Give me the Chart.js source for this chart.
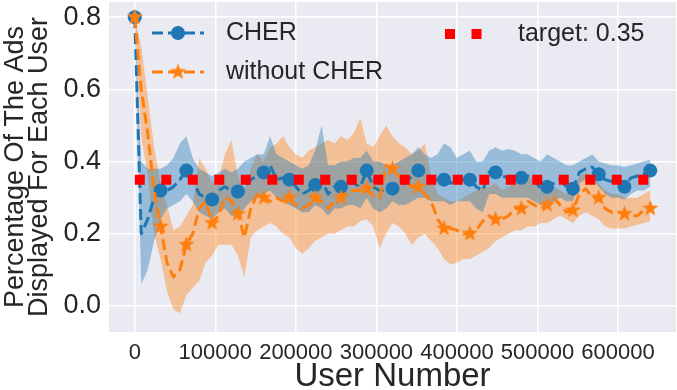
<!DOCTYPE html>
<html>
<head>
<meta charset="utf-8">
<script src="https://cdn.jsdelivr.net/npm/chart.js@4.4.1/dist/chart.umd.min.js"></script>
<style>
  html, body { margin: 0; padding: 0; background: #ffffff; }
  #wrap { width: 677px; height: 390px; }
</style>
</head>
<body>
<div id="wrap"><canvas id="adsChart" width="677" height="390"></canvas></div>
<script>
// sampled every 8000 users
const userNumbers = [
  0, 8000, 16000, 24000, 32000, 40000, 48000, 56000, 64000, 72000,
  80000, 88000, 96000, 104000, 112000, 120000, 128000, 136000, 144000, 152000,
  160000, 168000, 176000, 184000, 192000, 200000, 208000, 216000, 224000, 232000,
  240000, 248000, 256000, 264000, 272000, 280000, 288000, 296000, 304000, 312000,
  320000, 328000, 336000, 344000, 352000, 360000, 368000, 376000, 384000, 392000,
  400000, 408000, 416000, 424000, 432000, 440000, 448000, 456000, 464000, 472000,
  480000, 488000, 496000, 504000, 512000, 520000, 528000, 536000, 544000, 552000,
  560000, 568000, 576000, 584000, 592000, 600000, 608000, 616000, 624000, 632000,
  640000
];

const cherMean = [
  0.80, 0.20, 0.24, 0.30, 0.32, 0.32, 0.33, 0.35, 0.375, 0.35,
  0.31, 0.30, 0.295, 0.32, 0.33, 0.32, 0.317, 0.33, 0.35, 0.36,
  0.37, 0.39, 0.35, 0.355, 0.35, 0.33, 0.31, 0.32, 0.335, 0.35,
  0.31, 0.33, 0.33, 0.34, 0.34, 0.33, 0.375, 0.33, 0.32, 0.32,
  0.325, 0.335, 0.34, 0.36, 0.375, 0.36, 0.35, 0.35, 0.35, 0.34,
  0.35, 0.35, 0.35, 0.33, 0.32, 0.37, 0.37, 0.36, 0.355, 0.35,
  0.355, 0.36, 0.35, 0.325, 0.33, 0.34, 0.35, 0.33, 0.325, 0.37,
  0.38, 0.385, 0.365, 0.35, 0.345, 0.34, 0.33, 0.355, 0.36, 0.365,
  0.375
];
const cherLow = [
  0.80, 0.06, 0.10, 0.18, 0.24, 0.27, 0.28, 0.29, 0.31, 0.29,
  0.26, 0.25, 0.24, 0.26, 0.27, 0.25, 0.25, 0.27, 0.29, 0.30,
  0.31, 0.32, 0.30, 0.29, 0.28, 0.27, 0.26, 0.26, 0.28, 0.27,
  0.25, 0.27, 0.27, 0.28, 0.28, 0.27, 0.30, 0.27, 0.26, 0.27,
  0.29, 0.28, 0.28, 0.29, 0.30, 0.30, 0.29, 0.29, 0.29, 0.28,
  0.29, 0.29, 0.29, 0.27, 0.26, 0.31, 0.31, 0.30, 0.30, 0.30,
  0.30, 0.30, 0.29, 0.28, 0.28, 0.29, 0.30, 0.29, 0.29, 0.34,
  0.35, 0.35, 0.33, 0.31, 0.30, 0.30, 0.295, 0.31, 0.32, 0.32,
  0.33
];
const cherHigh = [
  0.80, 0.40, 0.38, 0.38, 0.38, 0.39, 0.41, 0.45, 0.47, 0.41,
  0.38, 0.37, 0.36, 0.37, 0.38, 0.37, 0.38, 0.40, 0.41, 0.42,
  0.42, 0.47, 0.42, 0.41, 0.40, 0.39, 0.38, 0.39, 0.43, 0.50,
  0.39, 0.39, 0.40, 0.40, 0.41, 0.41, 0.43, 0.40, 0.40, 0.39,
  0.39, 0.40, 0.41, 0.42, 0.44, 0.42, 0.41, 0.42, 0.45, 0.44,
  0.41, 0.42, 0.43, 0.40, 0.40, 0.43, 0.44, 0.43, 0.435, 0.43,
  0.42, 0.42, 0.41, 0.40, 0.42, 0.41, 0.40, 0.39, 0.39, 0.40,
  0.41, 0.42, 0.40, 0.395, 0.39, 0.39, 0.385, 0.39, 0.395, 0.40,
  0.405
];

const withoutMean = [
  0.80, 0.60, 0.48, 0.32, 0.22, 0.12, 0.08, 0.10, 0.17, 0.20,
  0.27, 0.29, 0.23, 0.25, 0.30, 0.29, 0.255, 0.19, 0.27, 0.31,
  0.30, 0.29, 0.30, 0.29, 0.30, 0.28, 0.27, 0.28, 0.30, 0.29,
  0.27, 0.29, 0.30, 0.315, 0.32, 0.32, 0.325, 0.305, 0.30, 0.39,
  0.38, 0.36, 0.34, 0.33, 0.33, 0.31, 0.29, 0.24, 0.215, 0.215,
  0.21, 0.20, 0.20, 0.21, 0.235, 0.25, 0.24, 0.24, 0.25, 0.27,
  0.27, 0.29, 0.28, 0.27, 0.28, 0.30, 0.28, 0.26, 0.265, 0.31,
  0.325, 0.30, 0.30, 0.27, 0.26, 0.26, 0.255, 0.25, 0.25, 0.265,
  0.27
];
const withoutLow = [
  0.80, 0.47, 0.36, 0.20, 0.13, 0.04, -0.01, -0.02, 0.03, 0.05,
  0.07, 0.12, 0.14, 0.17, 0.17, 0.17, 0.14, 0.08, 0.19, 0.21,
  0.22, 0.23, 0.22, 0.20, 0.19, 0.16, 0.145, 0.16, 0.18, 0.19,
  0.20, 0.20, 0.21, 0.22, 0.22, 0.235, 0.24, 0.22, 0.16, 0.20,
  0.23, 0.22, 0.20, 0.17, 0.19, 0.20, 0.18, 0.16, 0.13, 0.115,
  0.12, 0.13, 0.13, 0.14, 0.15, 0.16, 0.18, 0.19, 0.20, 0.21,
  0.21, 0.22, 0.22, 0.23, 0.23, 0.24, 0.25, 0.24, 0.23, 0.25,
  0.26, 0.25, 0.24, 0.22, 0.215, 0.215, 0.215, 0.22, 0.225, 0.23,
  0.235
];
const withoutHigh = [
  0.80, 0.72, 0.58, 0.44, 0.34, 0.28, 0.21, 0.22, 0.25, 0.28,
  0.41, 0.38, 0.34, 0.35, 0.42, 0.46, 0.36, 0.32, 0.38, 0.42,
  0.40, 0.44, 0.45, 0.47, 0.44, 0.42, 0.41, 0.43, 0.44, 0.45,
  0.46, 0.45, 0.47, 0.46, 0.48, 0.52, 0.45, 0.44, 0.47, 0.50,
  0.47, 0.45, 0.44, 0.42, 0.43, 0.45, 0.36, 0.31, 0.30, 0.29,
  0.29, 0.30, 0.31, 0.32, 0.33, 0.33, 0.34, 0.32, 0.33, 0.34,
  0.35, 0.36, 0.35, 0.34, 0.33, 0.33, 0.32, 0.31, 0.32, 0.36,
  0.37, 0.36, 0.34, 0.32, 0.31, 0.31, 0.30, 0.30, 0.30, 0.31,
  0.32
];

const targetValue = 0.35;
const xTicks = [0, 100000, 200000, 300000, 400000, 500000, 600000];
const yTicks = [0.0, 0.2, 0.4, 0.6, 0.8];
const seriesLabels = ['CHER', 'without CHER', 'target: ' + targetValue];

const BLUE = '#1f77b4';
const ORANGE = '#ff7f0e';
const TEXT = '#262626';
const FONT = "'Liberation Sans', Arial, sans-serif";

function toPoints(ys) {
  return ys.map((y, i) => ({ x: userNumbers[i], y: y }));
}

// filled five point star, like matplotlib's '*'
function makeStar(r, color) {
  const c = document.createElement('canvas');
  const size = Math.ceil(r * 2 + 2);
  c.width = size;
  c.height = size;
  const g = c.getContext('2d');
  g.fillStyle = color;
  g.beginPath();
  for (let k = 0; k < 10; k++) {
    const rad = k % 2 === 0 ? r : r * 0.42;
    const ang = -Math.PI / 2 + k * Math.PI / 5;
    const px = size / 2 + rad * Math.cos(ang);
    const py = size / 2 + rad * Math.sin(ang);
    if (k === 0) g.moveTo(px, py); else g.lineTo(px, py);
  }
  g.closePath();
  g.fill();
  return c;
}
const starImg = makeStar(8.5, ORANGE);

const plotBackground = {
  id: 'plotBackground',
  beforeDraw(chart) {
    const { ctx, chartArea: a } = chart;
    ctx.save();
    ctx.fillStyle = '#eaeaf2';
    ctx.fillRect(a.left, a.top, a.right - a.left, a.bottom - a.top);
    ctx.restore();
  }
};

// legend inside the axes, two columns like matplotlib ncol=2
const innerLegend = {
  id: 'innerLegend',
  afterDraw(chart) {
    const { ctx, chartArea: a } = chart;
    const x0 = a.left + 43;
    const rows = [a.top + 31, a.top + 70];
    ctx.save();
    ctx.font = '25px ' + FONT;
    ctx.fillStyle = TEXT;
    ctx.textBaseline = 'middle';
    ctx.textAlign = 'left';

    // CHER
    ctx.strokeStyle = BLUE;
    ctx.lineWidth = 3;
    ctx.setLineDash([11, 5]);
    ctx.beginPath();
    ctx.moveTo(x0, rows[0]);
    ctx.lineTo(x0 + 52, rows[0]);
    ctx.stroke();
    ctx.setLineDash([]);
    ctx.fillStyle = BLUE;
    ctx.beginPath();
    ctx.arc(x0 + 26, rows[0], 7, 0, Math.PI * 2);
    ctx.fill();
    ctx.fillStyle = TEXT;
    ctx.fillText(seriesLabels[0], x0 + 74, rows[0]);

    // without CHER
    ctx.strokeStyle = ORANGE;
    ctx.setLineDash([11, 5]);
    ctx.beginPath();
    ctx.moveTo(x0, rows[1]);
    ctx.lineTo(x0 + 52, rows[1]);
    ctx.stroke();
    ctx.setLineDash([]);
    ctx.drawImage(starImg, x0 + 26 - starImg.width / 2, rows[1] - starImg.height / 2);
    ctx.fillStyle = TEXT;
    ctx.fillText(seriesLabels[1], x0 + 74, rows[1]);

    // target
    const x1 = a.left + 336;
    ctx.strokeStyle = 'red';
    ctx.lineWidth = 10;
    ctx.lineCap = 'butt';
    ctx.setLineDash([10, 16.5]);
    ctx.beginPath();
    ctx.moveTo(x1, rows[0] + 1);
    ctx.lineTo(x1 + 52, rows[0] + 1);
    ctx.stroke();
    ctx.setLineDash([]);
    ctx.fillText(seriesLabels[2], x1 + 73, rows[0] + 1);
    ctx.restore();
  }
};

const markerRadius = (r) => (c) => (c.dataIndex % 4 === 0 ? r : 0);

const bandStyle = {
  borderWidth: 0,
  borderColor: 'transparent',
  pointRadius: 0,
  showLine: false,
  order: 10
};

const ctx = document.getElementById('adsChart').getContext('2d');
new Chart(ctx, {
  type: 'line',
  data: {
    datasets: [
      Object.assign({ data: toPoints(cherLow), fill: false }, bandStyle),
      Object.assign({ data: toPoints(cherHigh), fill: '-1', backgroundColor: 'rgba(31,119,180,0.4)' }, bandStyle),
      Object.assign({ data: toPoints(withoutLow), fill: false }, bandStyle),
      Object.assign({ data: toPoints(withoutHigh), fill: '-1', backgroundColor: 'rgba(255,127,14,0.4)' }, bandStyle),
      {
        label: seriesLabels[0],
        data: toPoints(cherMean),
        borderColor: BLUE,
        backgroundColor: BLUE,
        borderWidth: 3,
        borderDash: [11, 5],
        borderCapStyle: 'butt',
        borderJoinStyle: 'round',
        pointStyle: 'circle',
        pointRadius: markerRadius(7),
        pointBorderWidth: 0,
        pointBackgroundColor: BLUE,
        fill: false,
        order: 3
      },
      {
        label: seriesLabels[1],
        data: toPoints(withoutMean),
        borderColor: ORANGE,
        backgroundColor: ORANGE,
        borderWidth: 3,
        borderDash: [11, 5],
        borderCapStyle: 'butt',
        borderJoinStyle: 'round',
        pointStyle: starImg,
        pointRadius: markerRadius(8),
        fill: false,
        order: 2
      },
      {
        label: seriesLabels[2],
        data: [
          { x: userNumbers[0], y: targetValue },
          { x: userNumbers[userNumbers.length - 1], y: targetValue }
        ],
        borderColor: 'red',
        borderWidth: 10,
        borderDash: [10, 16.5],
        borderCapStyle: 'butt',
        pointRadius: 0,
        fill: false,
        order: 1
      }
    ]
  },
  options: {
    responsive: false,
    animation: false,
    devicePixelRatio: 1,
    layout: { autoPadding: false, padding: { top: 2, right: 1, bottom: 0, left: 0 } },
    plugins: {
      legend: { display: false },
      tooltip: { enabled: false },
      filler: { drawTime: 'beforeDatasetsDraw' }
    },
    scales: {
      x: {
        type: 'linear',
        min: -32000,
        max: 672000,
        grid: { color: '#ffffff', lineWidth: 1.5, drawTicks: false },
        border: { display: false },
        ticks: {
          color: TEXT,
          font: { family: FONT, size: 22 },
          padding: 8,
          maxRotation: 0,
          autoSkip: false,
          callback: (v) => String(v)
        },
        afterBuildTicks: (s) => { s.ticks = xTicks.map((v) => ({ value: v })); },
        afterFit: (s) => {
          s.height = 58;
          s.paddingLeft = 0;
          s.paddingRight = 0;
        },
        title: {
          display: true,
          text: 'User Number',
          color: TEXT,
          font: { family: FONT, size: 33, lineHeight: 0.8 },
          padding: 0
        }
      },
      y: {
        type: 'linear',
        min: -0.072,
        max: 0.842,
        grid: { color: '#ffffff', lineWidth: 1.5, drawTicks: false },
        border: { display: false },
        ticks: {
          color: TEXT,
          font: { family: FONT, size: 27 },
          padding: 8,
          callback: (v) => v.toFixed(1)
        },
        afterBuildTicks: (s) => { s.ticks = yTicks.map((v) => ({ value: v })); },
        afterFit: (s) => {
          s.width = 109;
          s.paddingTop = 0;
          s.paddingBottom = 0;
        },
        title: {
          display: true,
          text: ['Percentage Of The Ads', 'Displayed For Each User'],
          color: TEXT,
          font: { family: FONT, size: 27, lineHeight: 0.9 },
          padding: { top: 3, bottom: 0 }
        }
      }
    }
  },
  plugins: [plotBackground, innerLegend]
});
</script>
</body>
</html>
